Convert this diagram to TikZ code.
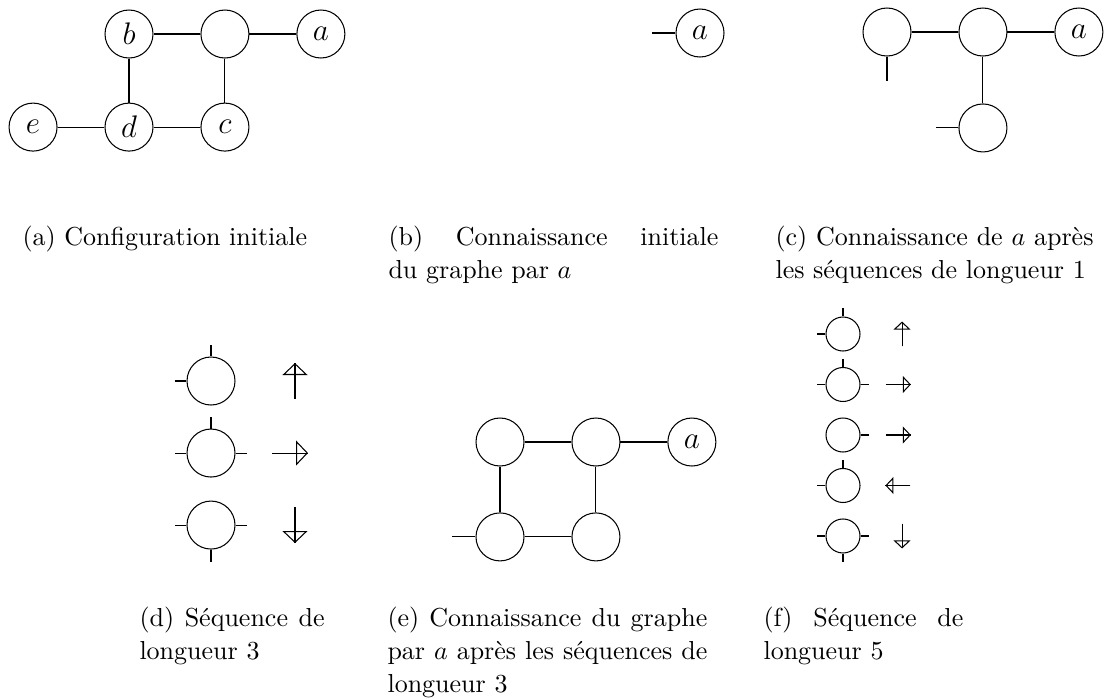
\documentclass[tikz,border=0pt]{standalone}
\usepackage{tikz}
\usetikzlibrary{arrows.meta,positioning}
\tikzset{
  sommet/.style={draw, circle, line width=0.4pt, minimum size=18.46pt, inner sep=0pt, font=\fontsize{12}{12}\selectfont},
  petit/.style={draw, circle, line width=0.4pt, minimum size=13.08pt, inner sep=0pt},
  fleche/.style={-{Triangle[open, length=4.6pt, width=9.6pt]}, line width=0.4pt, postaction={draw, -}},
  petitefleche/.style={-{Triangle[open, length=3.1pt, width=6.5pt]}, line width=0.4pt, postaction={draw, -}},
  legende/.style={anchor=base west, inner sep=0pt, align=justify, font=\fontsize{10}{12.8}\selectfont}
}

\begin{document}
\begin{tikzpicture}[x=0.3846pt, y=-0.3846pt, node distance=35.8pt and 36.9pt, on grid]
\useasboundingbox (0,0) rectangle (1104,698);

% (a) configuration initiale
\node[sommet] (b) at (129,34) {$b$};
\node[sommet, right=of b] (h) {};
\node[sommet, right=of h] (a) {$a$};
\node[sommet, below=of b] (d) {$d$};
\node[sommet, left=of d] (e) {$e$};
\node[sommet, below=of h] (c) {$c$};
\draw (b) -- (h) -- (a);
\draw (b) -- (d);
\draw (h) -- (c);
\draw (e) -- (d) -- (c);
\node[legende, text width=118.5pt] (capa) at (22,245) {(a) Configuration initiale};

% (b) connaissance initiale
\node[sommet] (ab) at (700,33) {$a$};
\draw (ab.west) -- ++(-9.2pt,0pt);
\node[legende, text width=126.9pt] (capb) at (388,245) {(b) Connaissance initiale\linebreak du graphe par $a$};

% (c) apres longueur 1
\node[sommet] (c1) at (887,32) {};
\node[sommet, right=of c1] (c2) {};
\node[sommet, right=of c2] (ac) {$a$};
\node[sommet, below=36.9pt of c2] (c3) {};
\draw (c1) -- (c2) -- (ac);
\draw (c2) -- (c3);
\draw (c1.south) -- ++(0pt,-9.6pt);
\draw (c3.west) -- ++(-8.8pt,0pt);
\node[legende, text width=122.3pt] (capc) at (775,245) {(c) Connaissance de $a$ après\linebreak les séquences de longueur 1};

% (d) sequence de longueur 3
\node[sommet] (d1) at (211,381) {};
\node[sommet, below=27.7pt of d1] (d2) {};
\node[sommet, below=27.7pt of d2] (d3) {};
\draw (d1.north) -- ++(0pt,4.6pt);
\draw (d1.west) -- ++(-4.6pt,0pt);
\draw (d2.north) -- ++(0pt,4.6pt);
\draw (d2.west) -- ++(-4.6pt,0pt);
\draw (d2.east) -- ++(4.6pt,0pt);
\draw (d3.west) -- ++(-4.6pt,0pt);
\draw (d3.east) -- ++(4.6pt,0pt);
\draw (d3.south) -- ++(0pt,-4.6pt);
\coordinate[right=32.3pt of d1] (fd1);
\coordinate[right=30.4pt of d2] (fd2);
\coordinate[right=32.3pt of d3] (fd3);
\draw[fleche] ([yshift=-6.9pt]fd1) -- ([yshift=6.9pt]fd1);
\draw[fleche] ([xshift=-6.9pt]fd2) -- ([xshift=6.9pt]fd2);
\draw[fleche] ([yshift=6.9pt]fd3) -- ([yshift=-6.9pt]fd3);
\node[legende, text width=71.2pt] (capd) at (139,626) {(d) Séquence de\linebreak longueur 3};

% (e) apres longueur 3
\node[sommet] (e1) at (500,442) {};
\node[sommet, right=of e1] (e2) {};
\node[sommet, right=of e2] (ae) {$a$};
\node[sommet, below=36.5pt of e1] (e3) {};
\node[sommet, below=36.5pt of e2] (e4) {};
\draw (e1) -- (e2) -- (ae);
\draw (e1) -- (e3) -- (e4) -- (e2);
\draw (e3.west) -- ++(-9.2pt,0pt);
\node[legende, text width=123pt] (cape) at (387,626) {(e) Connaissance du graphe\linebreak par $a$ après les séquences de\linebreak longueur 3};

% (f) sequence de longueur 5
\node[petit] (f1) at (843,334) {};
\node[petit, below=19.42pt of f1] (f2) {};
\node[petit, below=19.42pt of f2] (f3) {};
\node[petit, below=19.42pt of f3] (f4) {};
\node[petit, below=19.42pt of f4] (f5) {};
\draw (f1.north) -- ++(0pt,3.1pt);
\draw (f1.west) -- ++(-3.1pt,0pt);
\draw (f2.north) -- ++(0pt,3.1pt);
\draw (f2.west) -- ++(-3.1pt,0pt);
\draw (f2.east) -- ++(3.1pt,0pt);
\draw (f3.east) -- ++(3.1pt,0pt);
\draw (f4.north) -- ++(0pt,3.1pt);
\draw (f4.west) -- ++(-3.1pt,0pt);
\draw (f5.west) -- ++(-3.1pt,0pt);
\draw (f5.east) -- ++(3.1pt,0pt);
\draw (f5.south) -- ++(0pt,-3.1pt);
\coordinate[right=22.7pt of f1] (ff1);
\coordinate[right=21.3pt of f2] (ff2);
\coordinate[right=21.3pt of f3] (ff3);
\coordinate[right=21.1pt of f4] (ff4);
\coordinate[right=22.7pt of f5] (ff5);
\draw[petitefleche] ([yshift=-4.8pt]ff1) -- ([yshift=4.8pt]ff1);
\draw[petitefleche] ([xshift=-4.8pt]ff2) -- ([xshift=4.8pt]ff2);
\draw[petitefleche] ([xshift=-4.8pt]ff3) -- ([xshift=4.8pt]ff3);
\draw[petitefleche] ([xshift=4.8pt]ff4) -- ([xshift=-4.8pt]ff4);
\draw[petitefleche] ([yshift=4.8pt]ff5) -- ([yshift=-4.8pt]ff5);
\node[legende, text width=76.9pt] (capf) at (763,626) {(f) Séquence de\linebreak longueur 5};
\end{tikzpicture}
\end{document}
